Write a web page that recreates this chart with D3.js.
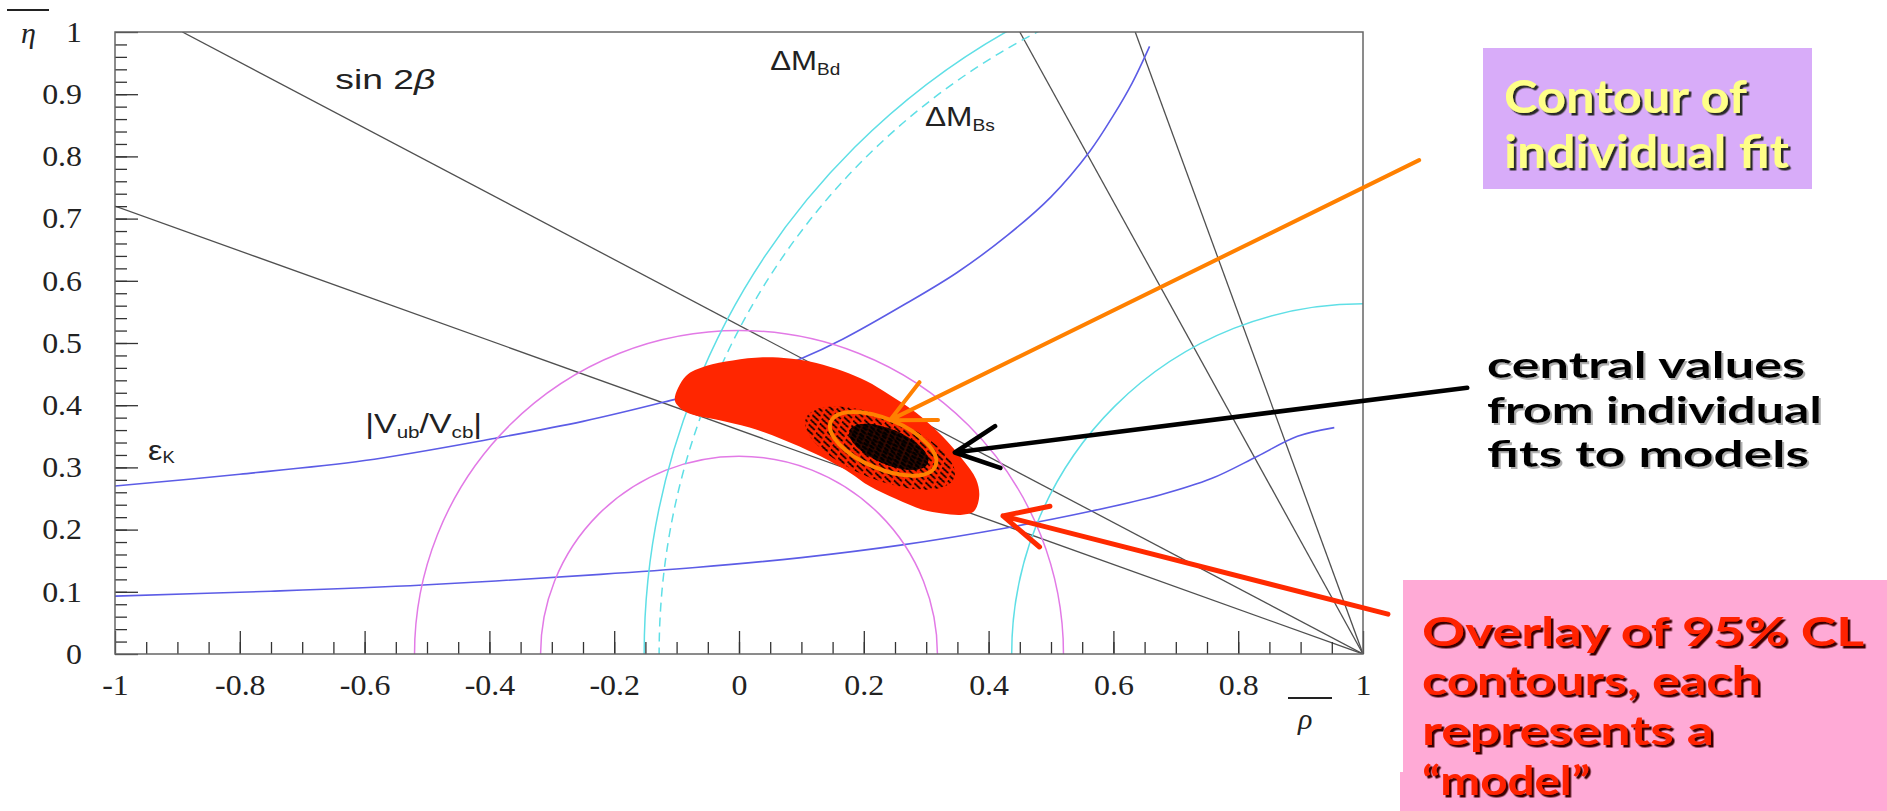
<!DOCTYPE html>
<html>
<head>
<meta charset="utf-8">
<script src="https://cdn.jsdelivr.net/npm/d3@7"></script>
<style>
  html, body { margin: 0; padding: 0; background: #fff; }
  svg { display: block; }
</style>
</head>
<body>
<div id="chart-area"></div>
<script>
// axis ticks
var xMajorTicks = [-1, -0.8, -0.6, -0.4, -0.2, 0, 0.2, 0.4, 0.6, 0.8, 1];
var xTickLabels = ['-1', '-0.8', '-0.6', '-0.4', '-0.2', '0', '0.2', '0.4', '0.6', '0.8', '1'];
var yMajorTicks = [0, 0.1, 0.2, 0.3, 0.4, 0.5, 0.6, 0.7, 0.8, 0.9, 1];
var yTickLabels = ['0', '0.1', '0.2', '0.3', '0.4', '0.5', '0.6', '0.7', '0.8', '0.9', '1'];

// straight constraints, all meet at the apex (1, 0)
var apex = [1, 0];
var sin2bEnds = [[-0.892, 1], [-1, 0.72]];
var alphaEnds = [[0.45, 1], [0.635, 1]];

// eps_K bands [rho, eta]
var epsKUpper = [[-1, 0.270], [-0.8, 0.289], [-0.6, 0.311], [-0.39, 0.347], [-0.25, 0.374],
    [-0.12, 0.405], [0, 0.437], [0.1, 0.475], [0.166, 0.506], [0.267, 0.563], [0.349, 0.613],
    [0.43, 0.673], [0.5, 0.735], [0.562, 0.808], [0.6, 0.866], [0.63, 0.918], [0.658, 0.977]];
var epsKLower = [[-1, 0.093], [-0.75, 0.101], [-0.506, 0.111], [-0.222, 0.128], [-0.07, 0.139],
    [0.1, 0.155], [0.259, 0.175], [0.43, 0.203], [0.5615, 0.229], [0.676, 0.256], [0.757, 0.282],
    [0.831, 0.318], [0.895, 0.350], [0.954, 0.364]];

// |Vub/Vcb| circles around (0,0), dM circles around (1,0)
var vubRadii = [0.318, 0.52];
var dmdRadii = [0.563, 1.152];
var dmsRadii = [1.128];

// 95% CL overlay of all models
var overlayContour = [[-0.103, 0.409], [-0.085, 0.447], [-0.053, 0.463], [-0.010, 0.472],
    [0.038, 0.477], [0.081, 0.475], [0.124, 0.468], [0.166, 0.455], [0.204, 0.439],
    [0.241, 0.417], [0.284, 0.388], [0.326, 0.350], [0.358, 0.313], [0.380, 0.281],
    [0.385, 0.254], [0.377, 0.230], [0.358, 0.224], [0.326, 0.226], [0.294, 0.232],
    [0.252, 0.249], [0.209, 0.270], [0.177, 0.292], [0.124, 0.321], [0.070, 0.345],
    [0.017, 0.364], [-0.037, 0.377], [-0.075, 0.385], [-0.095, 0.396]];

// central values of individual fits, and one individual contour
var centralCloud = { rho: 0.226, eta: 0.331, a: 0.128, b: 0.050, angle: 22 };
var centralCore = { rho: 0.240, eta: 0.333, a: 0.068, b: 0.028, angle: 23 };
var fitContour = { rho: 0.231, eta: 0.338, a: 0.091, b: 0.040, angle: 23 };

var margin = { top: 32, left: 115 };
var width = 1248;
var height = 622;

var svg = d3.select('#chart-area')
    .append('svg')
    .attr('width', 1887)
    .attr('height', 811);

var defs = svg.append('defs');
defs.append('clipPath').attr('id', 'plot-clip')
    .append('rect').attr('width', width).attr('height', height);

function dashPattern(id, w, h, sw) {
    defs.append('pattern')
        .attr('id', id)
        .attr('patternUnits', 'userSpaceOnUse')
        .attr('width', w)
        .attr('height', h)
        .append('line')
        .attr('x1', 0.5).attr('y1', 1).attr('x2', w - 3).attr('y2', h - 1.5)
        .attr('stroke', '#000').attr('stroke-width', sw).attr('stroke-linecap', 'round');
}
dashPattern('dash-cloud', 10, 5, 1.8);
dashPattern('dash-core', 7, 3.5, 2.4);

// drop shadows for the note texts
function shadowFilter(id, dx, color) {
    var f = defs.append('filter').attr('id', id)
        .attr('x', '-5%').attr('y', '-20%').attr('width', '115%').attr('height', '150%');
    f.append('feDropShadow')
        .attr('dx', dx).attr('dy', dx).attr('stdDeviation', 0.4)
        .attr('flood-color', color).attr('flood-opacity', 1);
}
shadowFilter('sh-yellow', 2.5, '#2a2a2a');
shadowFilter('sh-black', 2, '#b0b0b0');
shadowFilter('sh-red', 2.5, '#3a0000');

var graph = svg.append('g')
    .attr('transform', 'translate(' + margin.left + ',' + margin.top + ')');

var x = d3.scaleLinear().domain([-1, 1]).range([0, width]);
var y = d3.scaleLinear().domain([0, 1]).range([height, 0]);

var plot = graph.append('g').attr('clip-path', 'url(#plot-clip)');

// black lines through the apex
plot.selectAll('.apex-line')
    .data(sin2bEnds.concat(alphaEnds))
    .enter()
    .append('line')
    .attr('class', 'apex-line')
    .attr('x1', function (d) { return x(d[0]); })
    .attr('y1', function (d) { return y(d[1]); })
    .attr('x2', x(apex[0]))
    .attr('y2', y(apex[1]))
    .attr('stroke', '#505050')
    .attr('stroke-width', 1.3);

var curve = d3.line()
    .x(function (d) { return x(d[0]); })
    .y(function (d) { return y(d[1]); })
    .curve(d3.curveCatmullRom.alpha(0.5));

plot.selectAll('.epsk')
    .data([epsKUpper, epsKLower])
    .enter()
    .append('path')
    .attr('class', 'epsk')
    .attr('d', curve)
    .attr('fill', 'none')
    .attr('stroke', '#5c5ce6')
    .attr('stroke-width', 1.6);

function circles(radii, cx, color, dash) {
    plot.selectAll(null)
        .data(radii)
        .enter()
        .append('ellipse')
        .attr('cx', x(cx))
        .attr('cy', y(0))
        .attr('rx', function (r) { return x(cx + r) - x(cx); })
        .attr('ry', function (r) { return y(0) - y(r); })
        .attr('fill', 'none')
        .attr('stroke', color)
        .attr('stroke-width', 1.5)
        .attr('stroke-dasharray', dash);
}
circles(vubRadii, 0, '#e27ae6', null);
circles(dmdRadii, 1, '#5fdfe6', null);
circles(dmsRadii, 1, '#5fdfe6', '9,6');

// overlay of 95% CL contours
plot.append('path')
    .datum(overlayContour)
    .attr('d', d3.line()
        .x(function (d) { return x(d[0]); })
        .y(function (d) { return y(d[1]); })
        .curve(d3.curveCatmullRomClosed.alpha(0.5)))
    .attr('fill', '#ff2600');

function ellipse(e) {
    var cx = x(e.rho), cy = y(e.eta);
    return plot.append('ellipse')
        .attr('cx', cx)
        .attr('cy', cy)
        .attr('rx', x(e.rho + e.a) - cx)
        .attr('ry', cy - y(e.eta + e.b))
        .attr('transform', 'rotate(' + e.angle + ',' + cx + ',' + cy + ')');
}
ellipse(centralCloud).attr('fill', 'url(#dash-cloud)');
ellipse(centralCore).attr('fill', '#120300').attr('opacity', 0.85);
ellipse(centralCore).attr('fill', 'url(#dash-core)');
ellipse(fitContour).attr('fill', 'none').attr('stroke', '#ff8000').attr('stroke-width', 4);

// axes
var tickColor = '#333';
var xAxis = graph.append('g')
    .attr('transform', 'translate(0,' + height + ')')
    .call(d3.axisBottom(x).tickValues(xMajorTicks)
        .tickFormat(function (d, i) { return xTickLabels[i]; })
        .tickSize(-23).tickPadding(20));
graph.append('g')
    .attr('transform', 'translate(0,' + height + ')')
    .call(d3.axisBottom(x).tickValues(d3.range(-0.95, 1, 0.05)).tickFormat('').tickSize(-12))
    .select('.domain').remove();

var yAxis = graph.append('g')
    .call(d3.axisLeft(y).tickValues(yMajorTicks)
        .tickFormat(function (d, i) { return yTickLabels[i]; })
        .tickSize(-23).tickPadding(30));
graph.append('g')
    .call(d3.axisLeft(y).tickValues(d3.range(0.02, 1, 0.02)).tickFormat('').tickSize(-12))
    .select('.domain').remove();

xAxis.select('.domain').remove();
yAxis.select('.domain').remove();
graph.selectAll('.tick line').attr('stroke', tickColor).attr('stroke-width', 1.3);
graph.selectAll('.tick text')
    .attr('font-family', '"Liberation Serif", "Times New Roman", serif')
    .attr('font-size', 29)
    .attr('fill', '#222')
    .attr('transform', 'scale(1.1,1)');

graph.append('rect')
    .attr('x', 0).attr('y', 0)
    .attr('width', width).attr('height', height)
    .attr('fill', 'none')
    .attr('stroke', '#666')
    .attr('stroke-width', 1.5);

// axis titles with overbars
svg.append('line').attr('x1', 7).attr('x2', 49).attr('y1', 10).attr('y2', 10)
    .attr('stroke', '#222').attr('stroke-width', 2);
svg.append('text').attr('x', 21).attr('y', 43).text('η')
    .attr('font-family', '"Liberation Serif", serif').attr('font-style', 'italic')
    .attr('font-size', 30).attr('fill', '#222');
svg.append('line').attr('x1', 1288).attr('x2', 1332).attr('y1', 698).attr('y2', 698)
    .attr('stroke', '#222').attr('stroke-width', 2);
svg.append('text').attr('x', 1298).attr('y', 729).text('ρ')
    .attr('font-family', '"Liberation Serif", serif').attr('font-style', 'italic')
    .attr('font-size', 30).attr('fill', '#222');

// constraint labels: parts are [text, dy, font size, italic]
var plotLabels = [
    { rho: -0.647, eta: 0.908, w: 100, parts: [['sin 2', 0, 27], ['β', 0, 27, true]] },
    { rho: 0.050, eta: 0.939, w: 70, parts: [['ΔM', 0, 28], ['Bd', 5, 17]] },
    { rho: 0.298, eta: 0.849, w: 70, parts: [['ΔM', 0, 28], ['Bs', 5, 17]] },
    { rho: -0.599, eta: 0.355, w: 117, parts: [['|V', 0, 28], ['ub', 5, 17], ['/V', -5, 28], ['cb', 5, 17], ['|', -5, 28]] },
    { rho: -0.947, eta: 0.312, w: 27, parts: [['ε', 0, 28], ['K', 3, 16]] }
];

plotLabels.forEach(function (lab) {
    var g = graph.append('g')
        .attr('transform', 'translate(' + x(lab.rho) + ',' + y(lab.eta) + ')');
    var t = g.append('text')
        .attr('font-family', '"Liberation Sans", Arial, sans-serif')
        .attr('fill', '#222');
    lab.parts.forEach(function (p) {
        t.append('tspan')
            .attr('dy', p[1])
            .attr('font-size', p[2])
            .attr('font-style', p[3] ? 'italic' : null)
            .text(p[0]);
    });
    var w = t.node().getBBox().width;
    t.attr('transform', 'scale(' + (lab.w / w) + ',1)');
});

// annotation arrows, ends in (rho, eta)
var arrows = [
    { color: '#ff8000', width: 4, from: [1.090, 0.794], to: [0.242, 0.376] },
    { color: '#000', width: 4.6, from: [1.167, 0.428], to: [0.346, 0.324] },
    { color: '#ff2a00', width: 5, from: [1.040, 0.064], to: [0.423, 0.222] }
];
arrows.forEach(function (a) {
    var x0 = x(a.from[0]), y0 = y(a.from[1]);
    var x1 = x(a.to[0]), y1 = y(a.to[1]);
    var ang = Math.atan2(y0 - y1, x0 - x1);
    var len = 48, spread = 26 * Math.PI / 180;
    var h1 = [x1 + len * Math.cos(ang - spread), y1 + len * Math.sin(ang - spread)];
    var h2 = [x1 + len * Math.cos(ang + spread), y1 + len * Math.sin(ang + spread)];
    graph.append('path')
        .attr('d', 'M' + x0 + ',' + y0 + 'L' + x1 + ',' + y1 +
            'M' + h1[0] + ',' + h1[1] + 'L' + x1 + ',' + y1 + 'L' + h2[0] + ',' + h2[1])
        .attr('fill', 'none')
        .attr('stroke', a.color)
        .attr('stroke-width', a.width)
        .attr('stroke-linecap', 'round')
        .attr('stroke-linejoin', 'round');
});

// note boxes
var fitNote = ['Contour of', 'individual fit'];
var centralNote = ['central values', 'from individual', 'fits to models'];
var overlayNote = ['Overlay of 95% CL', 'contours, each', 'represents a', '\u201Cmodel\u201D'];

svg.append('rect').attr('x', 1483).attr('y', 48).attr('width', 329).attr('height', 141)
    .attr('fill', '#d8acf9');
svg.append('rect').attr('x', 1403).attr('y', 580).attr('width', 484).attr('height', 231)
    .attr('fill', '#ffaad6');
svg.append('rect').attr('x', 1400).attr('y', 772).attr('width', 10).attr('height', 39)
    .attr('fill', '#ffaad6');

function note(lines, x0, baselines, widths, size, fill, filterId) {
    svg.append('g')
        .attr('filter', 'url(#' + filterId + ')')
        .selectAll('text')
        .data(lines)
        .enter()
        .append('text')
        .attr('x', x0)
        .attr('y', function (d, i) { return baselines[i]; })
        .attr('font-family', 'Lato, "DejaVu Sans", sans-serif')
        .attr('font-weight', 700)
        .attr('font-size', size)
        .attr('textLength', function (d, i) { return widths[i]; })
        .attr('lengthAdjust', 'spacingAndGlyphs')
        .attr('fill', fill)
        .text(function (d) { return d; });
}
note(fitNote, 1504, [113, 168], [243, 285], 45, '#ffff88', 'sh-yellow');
note(centralNote, 1487, [378, 423, 467], [318, 335, 322], 37, '#000', 'sh-black');
note(overlayNote, 1422, [646, 695, 745, 795], [442, 339, 292, 168], 41, '#ff2200', 'sh-red');
</script>
</body>
</html>
